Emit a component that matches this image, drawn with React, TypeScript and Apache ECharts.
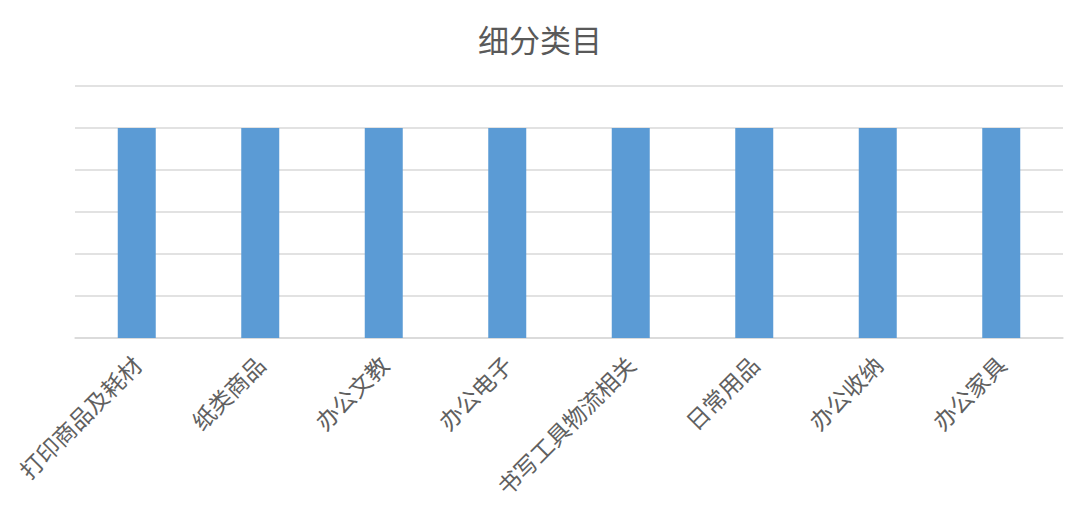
import React, { useEffect, useRef } from 'react';
import * as echarts from 'echarts';

const categories = ['打印商品及耗材', '纸类商品', '办公文教', '办公电子', '书写工具物流相关', '日常用品', '办公收纳', '办公家具'];
const values = [5, 5, 5, 5, 5, 5, 5, 5];

const App: React.FC = () => {
  const chartRef = useRef<HTMLDivElement>(null);

  useEffect(() => {
    if (!chartRef.current) return;
    const chart = echarts.init(chartRef.current, undefined, { renderer: 'svg' });
    chart.setOption({
      animation: false,
      title: {
        text: '细分类目',
        left: 'center',
        top: 18,
        textStyle: { fontFamily: 'Noto Sans CJK SC', fontSize: 31, fontWeight: 'normal', color: '#595959' },
      },
      grid: { left: 75, right: 17, top: 86, bottom: 186, containLabel: false },
      xAxis: {
        type: 'category',
        data: categories,
        axisLine: { lineStyle: { color: '#d9d9d9', width: 1.5 } },
        axisTick: { show: false },
        axisLabel: {
          interval: 0,
          rotate: 45,
          margin: 22,
          fontFamily: 'Noto Sans CJK SC',
          fontSize: 23,
          color: '#606060',
        },
      },
      yAxis: {
        type: 'value',
        min: 0,
        max: 6,
        interval: 1,
        axisLabel: { show: false },
        axisLine: { show: false },
        axisTick: { show: false },
        splitLine: { lineStyle: { color: '#d9d9d9', width: 1.5 } },
      },
      series: [
        {
          type: 'bar',
          data: values,
          barWidth: 38,
          itemStyle: { color: '#5b9bd5' },
        },
      ],
    });
    return () => chart.dispose();
  }, []);

  return <div ref={chartRef} style={{ position: 'fixed', left: 0, top: 0, width: 1080, height: 524, background: '#fff' }} />;
};

export default App;
